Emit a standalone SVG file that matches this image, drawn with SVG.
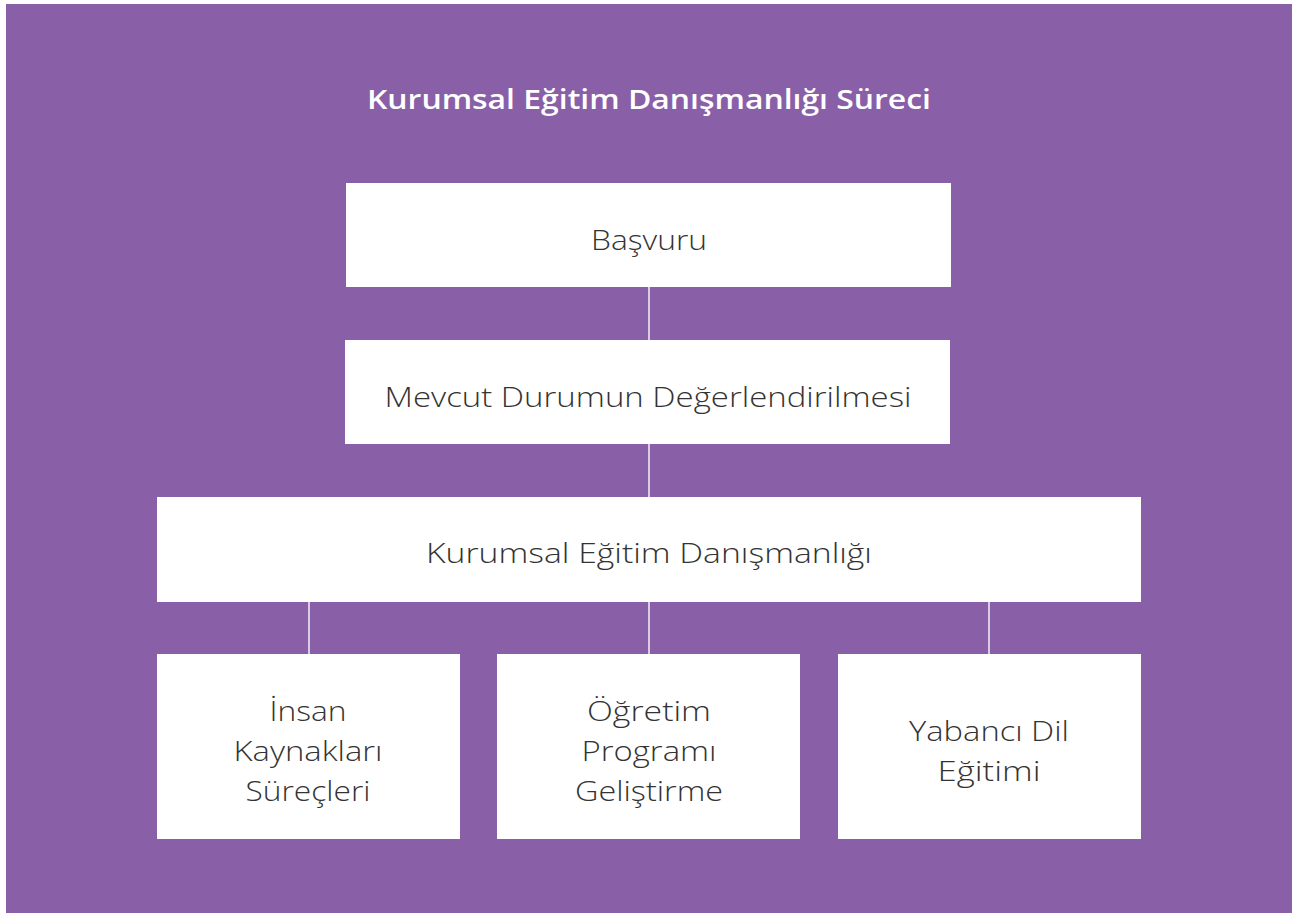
<svg xmlns="http://www.w3.org/2000/svg" width="1297" height="916" viewBox="0 0 1297 916">
<style>
.box{fill:#ffffff}
.t{font-family:"Open Sans","Liberation Sans",sans-serif;font-weight:300;font-size:27px;fill:#333333;text-anchor:middle}
.title{font-family:"Open Sans","Liberation Sans",sans-serif;font-weight:600;font-size:27px;fill:#ffffff;text-anchor:middle}
.c{stroke:#d9cde6;stroke-width:2;fill:none}
</style>
<rect x="0" y="0" width="1297" height="916" fill="#ffffff"/>
<rect x="6" y="4" width="1286" height="909" fill="#8960a8"/>
<text class="title" x="649" y="109" textLength="564" lengthAdjust="spacingAndGlyphs">Kurumsal Eğitim Danışmanlığı Süreci</text>
<g id="connectors">
<line class="c" x1="649" y1="287" x2="649" y2="340"/>
<line class="c" x1="649" y1="444" x2="649" y2="497"/>
<line class="c" x1="309" y1="601" x2="309" y2="654"/>
<line class="c" x1="649" y1="601" x2="649" y2="654"/>
<line class="c" x1="989" y1="601" x2="989" y2="654"/>
</g>
<g id="basvuru">
<rect class="box" x="346" y="183" width="605" height="104"/>
<text class="t" x="649" y="250" textLength="116" lengthAdjust="spacingAndGlyphs">Başvuru</text>
</g>
<g id="mevcut">
<rect class="box" x="345" y="340" width="605" height="104"/>
<text class="t" x="648" y="407" textLength="527" lengthAdjust="spacingAndGlyphs">Mevcut Durumun Değerlendirilmesi</text>
</g>
<g id="kurumsal">
<rect class="box" x="157" y="497" width="984" height="105"/>
<text class="t" x="649" y="563" textLength="446" lengthAdjust="spacingAndGlyphs">Kurumsal Eğitim Danışmanlığı</text>
</g>
<g id="insan">
<rect class="box" x="157" y="654" width="303" height="185"/>
<text class="t" x="308" y="721" textLength="77" lengthAdjust="spacingAndGlyphs">İnsan</text>
<text class="t" x="308" y="761" textLength="149" lengthAdjust="spacingAndGlyphs">Kaynakları</text>
<text class="t" x="308" y="801" textLength="125" lengthAdjust="spacingAndGlyphs">Süreçleri</text>
</g>
<g id="ogretim">
<rect class="box" x="497" y="654" width="303" height="185"/>
<text class="t" x="649" y="721" textLength="124" lengthAdjust="spacingAndGlyphs">Öğretim</text>
<text class="t" x="649" y="761" textLength="135" lengthAdjust="spacingAndGlyphs">Programı</text>
<text class="t" x="649" y="801" textLength="148" lengthAdjust="spacingAndGlyphs">Geliştirme</text>
</g>
<g id="yabanci">
<rect class="box" x="838" y="654" width="303" height="185"/>
<text class="t" x="989" y="741" textLength="160" lengthAdjust="spacingAndGlyphs">Yabancı Dil</text>
<text class="t" x="989" y="781" textLength="103" lengthAdjust="spacingAndGlyphs">Eğitimi</text>
</g>
</svg>
